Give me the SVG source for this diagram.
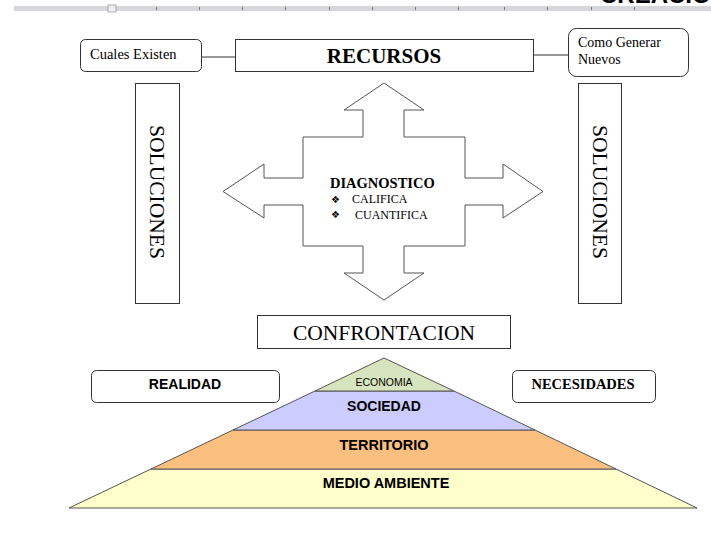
<svg xmlns="http://www.w3.org/2000/svg" width="711" height="533" viewBox="0 0 711 533">
<style>
.box{fill:#fff;stroke:#333;stroke-width:1}
.conn{stroke:#333;stroke-width:1;fill:none}
.serif{font-family:"Liberation Serif","Times New Roman",serif;fill:#000}
.sans{font-family:"Liberation Sans",Arial,sans-serif;fill:#000;font-weight:bold}
.layer{stroke:#555;stroke-width:1}
</style>
<rect width="711" height="533" fill="#fff"/>
<g id="ruler">
<rect x="14" y="6" width="697" height="5" fill="#d4d6d9"/>
<rect x="108" y="5" width="8" height="7" fill="#eee" stroke="#999" stroke-width="0.8"/>
<g stroke="#777" stroke-width="1">
<line x1="156.5" y1="7" x2="156.5" y2="10"/><line x1="199.5" y1="7" x2="199.5" y2="10"/>
<line x1="242.5" y1="7" x2="242.5" y2="10"/><line x1="285.5" y1="7" x2="285.5" y2="10"/>
<line x1="329.5" y1="7" x2="329.5" y2="10"/><line x1="372.5" y1="7" x2="372.5" y2="10"/>
<line x1="415.5" y1="7" x2="415.5" y2="10"/><line x1="458.5" y1="7" x2="458.5" y2="10"/>
<line x1="504.5" y1="7" x2="504.5" y2="10"/><line x1="547.5" y1="7" x2="547.5" y2="10"/>
<line x1="591.5" y1="7" x2="591.5" y2="10"/><line x1="634.5" y1="7" x2="634.5" y2="10"/>
</g>
<text x="600" y="3" class="sans" font-size="24">CREACION</text>
</g>
<g id="connectors">
<line class="conn" x1="201" y1="57" x2="235" y2="57"/>
<line class="conn" x1="533" y1="55" x2="568" y2="55"/>
</g>
<g id="cuales">
<rect class="box" x="80.5" y="39.5" width="121" height="32" rx="5"/>
<text class="serif" x="90" y="59" font-size="14.5">Cuales Existen</text>
</g>
<g id="recursos">
<rect class="box" x="235.5" y="39.5" width="298" height="32"/>
<text class="serif" x="384" y="63" font-size="21" font-weight="bold" text-anchor="middle">RECURSOS</text>
</g>
<g id="como">
<rect class="box" x="568.5" y="28.5" width="120" height="48" rx="8"/>
<text class="serif" x="578" y="47" font-size="14">Como Generar</text>
<text class="serif" x="578" y="64" font-size="14">Nuevos</text>
</g>
<g id="soluciones-left">
<rect class="box" x="135.5" y="83.5" width="44" height="220"/>
<text class="serif" font-size="21.5" text-anchor="middle" transform="translate(150,192) rotate(90)">SOLUCIONES</text>
</g>
<g id="soluciones-right">
<rect class="box" x="578.5" y="83.5" width="43" height="220"/>
<text class="serif" font-size="21.5" text-anchor="middle" transform="translate(593,192) rotate(90)">SOLUCIONES</text>
</g>
<g id="diagnostico">
<path fill="#fff" stroke="#555" stroke-width="1" d="M384,83 L424,110 L404,110 L404,137 L465,137 L465,178 L503,178 L503,164 L543,191.5 L503,218 L503,205 L465,205 L465,246 L404,246 L404,273 L424,273 L384,300 L344,273 L363,273 L363,246 L303,246 L303,205 L264,205 L264,218 L223,191.5 L264,164 L264,178 L303,178 L303,137 L363,137 L363,110 L344,110 Z"/>
<text class="serif" x="330" y="188" font-size="14.5" font-weight="bold">DIAGNOSTICO</text>
<text x="331" y="203" font-size="10" font-family="DejaVu Sans,sans-serif">❖</text>
<text class="serif" x="352" y="203" font-size="12">CALIFICA</text>
<text x="331" y="218" font-size="10" font-family="DejaVu Sans,sans-serif">❖</text>
<text class="serif" x="355" y="219" font-size="12">CUANTIFICA</text>
</g>
<g id="confrontacion">
<rect class="box" x="257.5" y="315.5" width="253" height="33"/>
<text class="serif" x="384" y="340" font-size="21.5" text-anchor="middle">CONFRONTACION</text>
</g>
<g id="realidad">
<rect class="box" x="91.5" y="370.5" width="188" height="32" rx="5"/>
<text class="sans" x="185" y="389" font-size="14" text-anchor="middle">REALIDAD</text>
</g>
<g id="necesidades">
<rect class="box" x="512.5" y="370.5" width="143" height="32" rx="5"/>
<text class="serif" x="583" y="389" font-size="14.5" font-weight="bold" text-anchor="middle">NECESIDADES</text>
</g>
<g id="pyramid">
<polygon class="layer" fill="#ffffcc" points="151,469 616,469 697,508 69,508"/>
<polygon class="layer" fill="#fbbf80" points="233,430 535,430 616,469 151,469"/>
<polygon class="layer" fill="#ccccff" points="315,391 454,391 535,430 233,430"/>
<polygon class="layer" fill="#d7e4bd" points="384,358 454,391 315,391"/>
<text x="384" y="386" font-size="10.5" text-anchor="middle" font-family="Liberation Sans,Arial,sans-serif" fill="#000">ECONOMIA</text>
<text class="sans" x="384" y="411" font-size="14" text-anchor="middle">SOCIEDAD</text>
<text class="sans" x="384" y="450" font-size="14.5" text-anchor="middle">TERRITORIO</text>
<text class="sans" x="386" y="488" font-size="14.5" text-anchor="middle">MEDIO AMBIENTE</text>
</g>
</svg>
